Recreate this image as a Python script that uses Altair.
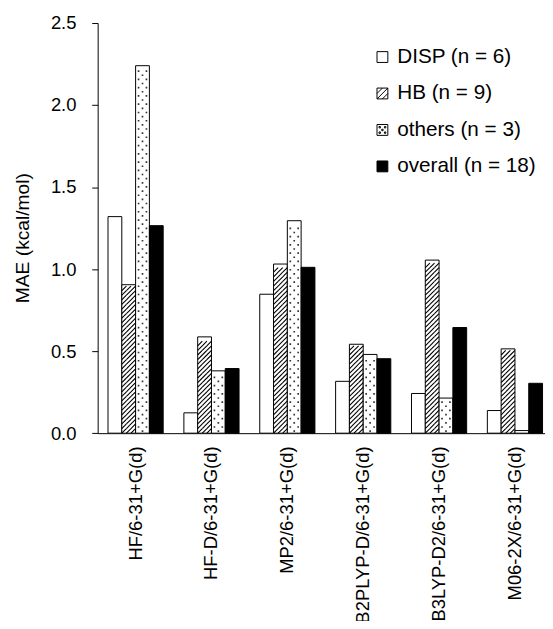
import altair as alt
import pandas as pd

methods = ["HF/6-31+G(d)", "HF-D/6-31+G(d)", "MP2/6-31+G(d)",
           "B2PLYP-D/6-31+G(d)", "B3LYP-D2/6-31+G(d)", "M06-2X/6-31+G(d)"]
series = ["DISP (n = 6)", "HB (n = 9)", "others (n = 3)", "overall (n = 18)"]
disp = [1.32, 0.124, 0.847, 0.316, 0.242, 0.138]
hb = [0.905, 0.587, 1.031, 0.542, 1.055, 0.514]
others = [2.24, 0.38, 1.295, 0.48, 0.214, 0.016]
overall = [1.265, 0.394, 1.011, 0.454, 0.644, 0.304]
y_ticks = [0.0, 0.5, 1.0, 1.5, 2.0, 2.5]

rows = []
for name, vals in zip(series, [disp, hb, others, overall]):
    for m, v in zip(methods, vals):
        rows.append({"method": m, "series": name, "value": v})
df = pd.DataFrame(rows)

FONT = "Liberation Sans"
H = 416.25
PX = H / 2.5  # pixels per unit

x_enc = alt.X("method:N", sort=methods,
              scale=alt.Scale(domain=methods, range=[0, 462], paddingInner=0, paddingOuter=0),
              axis=alt.Axis(title=None, labelAngle=270, labelFontSize=18.7, labelFont=FONT,
                            labelColor="black", ticks=False, domainColor="black",
                            labelPadding=13, labelLimit=400))
xo_enc = alt.XOffset("series:N", sort=series,
                     scale=alt.Scale(domain=series, paddingInner=0, paddingOuter=0.75))
y_scale = alt.Scale(domain=[0, 2.5], nice=False, zero=True)
y_axis = alt.Axis(title="MAE (kcal/mol)", titleFontSize=19.5, titleFontWeight="normal",
                  titleFont=FONT, titleColor="black", titleAngle=270, titleX=-66, titleY=217.8,
                  titleAlign="center", titleBaseline="bottom",
                  labelFontSize=18.7, labelFont=FONT, labelColor="black", format=".1f",
                  values=y_ticks, tickSize=6, tickColor="black", domainColor="black",
                  grid=False, labelPadding=16)

base = alt.Chart(df)

bars = base.mark_bar(stroke="black", strokeWidth=1).encode(
    x=x_enc, xOffset=xo_enc,
    y=alt.Y("value:Q", scale=y_scale, axis=y_axis),
    fill=alt.condition("datum.series === 'overall (n = 18)'", alt.value("black"), alt.value("white")),
)

# hatch strip: three 45-degree segments spanning the bar width
hatch_path = "M-1,0.3333L-0.3333,-0.3333M-0.3333,0.3333L0.3333,-0.3333M0.3333,0.3333L1,-0.3333"
hstep = (14 / 3) / PX
hatch = base.transform_filter("datum.series === 'HB (n = 9)'").transform_calculate(
    lev=f"sequence({hstep/2}, datum.value - {hstep/2} + 1e-6, {hstep})"
).transform_flatten(["lev"]).mark_point(
    shape=hatch_path, size=196, filled=False, stroke="black", strokeWidth=1.1, opacity=1
).encode(x=x_enc, xOffset=xo_enc, y=alt.Y("lev:Q", scale=y_scale))

# dot strip: staggered dots
def sq(cx, cy, s=0.12):
    return f"M{cx-s:.3f},{cy-s:.3f}h{2*s:.3f}v{2*s:.3f}h{-2*s:.3f}Z"
dot_path = sq(-0.571, -0.3) + sq(0.571, -0.3) + sq(0, 0.3)
dstep = 8.4 / PX
dots = base.transform_filter("datum.series === 'others (n = 3)'").transform_calculate(
    lev=f"sequence({dstep/2}, datum.value - {3.0/PX}, {dstep})"
).transform_flatten(["lev"]).mark_point(
    shape=dot_path, size=196, filled=True, fill="#333333", strokeWidth=0, opacity=1
).encode(x=x_enc, xOffset=xo_enc, y=alt.Y("lev:Q", scale=y_scale))

leg_square = "M-1,-1H1V1H-1Z"
leg_hatch = "M-1,-1H1V1H-1ZM-1,0L0,-1M-1,1L1,-1M0,1L1,0"
leg_dots = ("M-1,-1H1V1H-1Z" + sq(-0.5, -0.5, 0.13) + sq(0.5, -0.5, 0.13) + sq(0, 0, 0.13)
            + sq(-0.5, 0.5, 0.13) + sq(0.5, 0.5, 0.13))

legend = alt.Legend(title=None, orient="none", legendX=278.5, legendY=24, padding=0,
                    labelFontSize=21, labelFont=FONT, labelColor="black", labelLimit=400,
                    symbolSize=121, symbolStrokeColor="black", symbolStrokeWidth=1,
                    rowPadding=15, labelOffset=4.5)

leg = base.transform_filter("false").mark_point(filled=True, opacity=1, strokeWidth=1).encode(
    fill=alt.Fill("series:N", sort=series,
                  scale=alt.Scale(domain=series, range=["white", "white", "white", "black"]),
                  legend=legend),
    stroke=alt.Stroke("series:N", sort=series,
                      scale=alt.Scale(domain=series, range=["black", "black", "black", "black"]),
                      legend=legend),
    shape=alt.Shape("series:N", sort=series,
                    scale=alt.Scale(domain=series, range=[leg_square, leg_hatch, leg_dots, leg_square]),
                    legend=legend),
)

chart = alt.layer(bars, hatch, dots, leg).properties(
    width=454, height=H,
    autosize=alt.AutoSizeParams(type="none"),
    padding={"left": 91, "top": 10.7, "right": 0, "bottom": 186},
).configure_view(stroke=None)

chart.save("out.html", embed_options={"renderer": "svg", "actions": False})
